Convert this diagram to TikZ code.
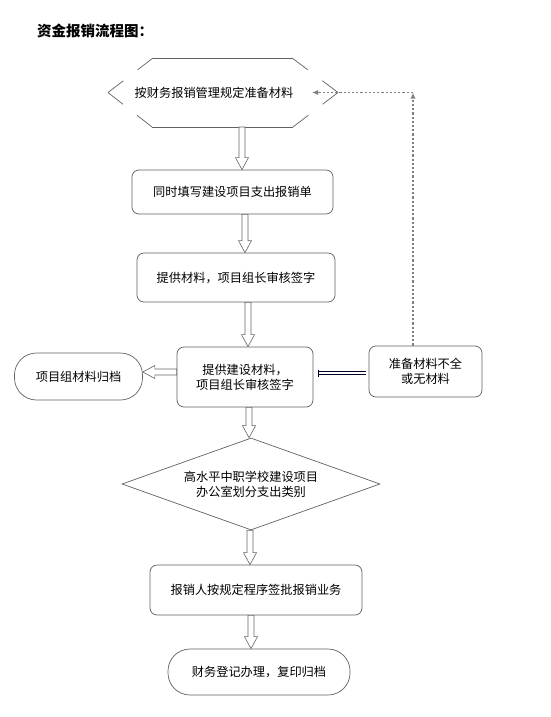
\documentclass[tikz,border=0pt]{standalone}
\usepackage{fontspec}
\newfontfamily\cjk{Noto Sans CJK SC}
\usetikzlibrary{calc,arrows.meta,shapes.geometric}
\tikzset{
  txt/.style={font=\cjk\fontsize{12.2}{15}\selectfont, text=black, align=center, inner sep=0pt},
  rbox/.style={txt, draw=black!62, line width=0.7pt, rounded corners=7pt},
  stadium/.style={txt, draw=black!62, line width=0.7pt, rounded corners=22pt},
  outline/.style={draw=black!62, line width=0.7pt},
  fatarrow/.style={draw=black!60, fill=white, line width=0.6pt, line join=miter},
  dotarrow/.style={draw=black!50, line width=1.1pt, dash pattern=on 2.2pt off 2pt, -{Latex[length=6pt,width=5pt]}},
  dline/.style={draw=black!85!blue, line width=0.6pt, double, double distance=2pt}
}
\newcommand{\fatv}[2]{\draw[fatarrow] let \p1=(#1), \p2=(#2) in
  (\x1-3pt,\y1) -- (\x1-3pt,\y2+12pt) -- (\x1-6.5pt,\y2+12pt) -- (\x1,\y2) --
  (\x1+6.5pt,\y2+12pt) -- (\x1+3pt,\y2+12pt) -- (\x1+3pt,\y1) -- cycle;}
\newcommand{\fath}[2]{\draw[fatarrow] let \p1=(#1), \p2=(#2) in
  (\x1,\y1+3pt) -- (\x2+12pt,\y1+3pt) -- (\x2+12pt,\y1+6.5pt) -- (\x2,\y1) --
  (\x2+12pt,\y1-6.5pt) -- (\x2+12pt,\y1-3pt) -- (\x1,\y1-3pt) -- cycle;}
\begin{document}
\begin{tikzpicture}[x=1pt,y=-1pt]
\useasboundingbox[fill=white] (0,0) rectangle (550,717);

% title
\node[anchor=west, font=\cjk\bfseries\fontsize{14.5}{16}\selectfont, inner sep=0pt] (title) at (37,31) {资金报销流程图：};

% hexagon (broken outline)
\coordinate (hTL) at (153,58);
\coordinate (hTR) at (292,58);
\coordinate (hR) at (338,92.5);
\coordinate (hBR) at (293,127);
\coordinate (hBL) at (152,127);
\coordinate (hL) at (108,92.5);
\draw[outline] (hTL) -- (hTR);
\draw[outline] (hBL) -- (hBR);
\foreach \a/\b in {hTL/hL, hL/hBL, hTR/hR, hR/hBR}{
  \draw[outline] (\a) -- ($(\a)!0.34!(\b)$) ($(\a)!0.66!(\b)$) -- (\b);
}
\node[txt] (hex) at (214,92.5) {按财务报销管理规定准备材料};
\coordinate (hexbot) at (242,127);

% boxes
\node[rbox, minimum width=201pt, minimum height=44pt] (b1) at (232.5,192) {同时填写建设项目支出报销单};
\node[rbox, minimum width=198pt, minimum height=49pt] (b2) at (236,277.5) {提供材料，项目组长审核签字};
\node[rbox, minimum width=136pt, minimum height=60pt] (b3) at (245,377) {提供建设材料，\\ 项目组长审核签字};
\node[stadium, minimum width=128pt, minimum height=47pt] (arch) at (78.5,376.5) {项目组材料归档};
\node[rbox, minimum width=113pt, minimum height=51pt] (nb) at (425.5,371.5) {准备材料不全\\或无材料};
\node[txt, shape=diamond, shape aspect=2.8, draw=black!62, line width=0.7pt, minimum width=258pt, minimum height=92pt] (dia) at (251,484) {高水平中职学校建设项目\\办公室划分支出类别};
\node[rbox, minimum width=212pt, minimum height=50pt] (b4) at (256,590) {报销人按规定程序签批报销业务};
\node[stadium, minimum width=182pt, minimum height=46pt] (fin) at (259,672) {财务登记办理，复印归档};

% fat hollow arrows
\fatv{hexbot}{b1.north -| 242,0}
\fatv{b1.south -| 245,0}{b2.north -| 245,0}
\fatv{b2.south -| 248,0}{b3.north -| 248,0}
\fatv{b3.south -| 249,0}{dia.north -| 249,0}
\fatv{dia.south -| 250,0}{b4.north -| 250,0}
\fatv{b4.south -| 251,0}{fin.north -| 251,0}
\fath{b3.west |- 0,372}{arch.east |- 0,372}

% double connector
\coordinate (dl1) at (318,373);
\coordinate (dl2) at (366,373);
\draw[dline] (dl1) -- (dl2);
\draw[draw=black!85!blue, line width=0.8pt] ($(dl1)+(0,-3.5)$) -- ($(dl1)+(0,3.5)$);

% dotted feedback
\coordinate (fb1) at (nb.north -| 413,0);
\coordinate (fb2) at (413,92.5);
\coordinate (fbend) at (312,92.5);
\draw[dotarrow] (fb1) -- (fb2);
\draw[dotarrow] (fb2) -- (fbend);
\end{tikzpicture}
\end{document}
